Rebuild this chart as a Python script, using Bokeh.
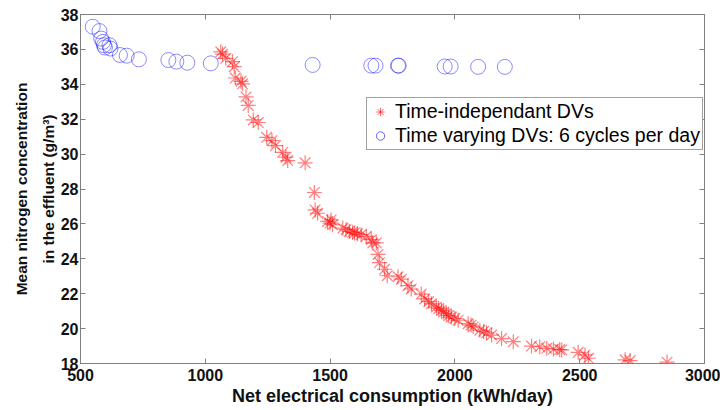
from bokeh.plotting import figure
from bokeh.models import (LinearAxis, Range1d, Legend, LegendItem, FixedTicker,
                          CustomJSTickFormatter)
from bokeh.embed import file_html
from bokeh.resources import INLINE

# Time varying DVs: 6 cycles per day
tv_x = [549, 576, 583, 590, 594, 598, 616, 620, 658, 685, 734, 852, 884, 928,
        1022, 1430, 1665, 1682, 1772, 1775, 1959, 1983, 2093, 2200]
tv_y = [37.3, 37.05, 36.62, 36.43, 36.24, 36.11, 36.24, 36.05, 35.68, 35.64, 35.43,
        35.39, 35.3, 35.24, 35.2, 35.11, 35.07, 35.07, 35.07, 35.07, 35.02, 35.02,
        35.0, 35.0]

# Time-independant DVs
ti_x = [1062, 1069, 1082, 1109, 1116, 1120, 1143, 1149, 1163, 1172, 1192, 1212,
        1246, 1267, 1281, 1310, 1323, 1330, 1400, 1437,
        1440, 1450, 1490, 1504, 1510, 1500, 1551, 1564, 1577, 1590, 1598, 1610,
        1624, 1645, 1665, 1671, 1685, 1692, 1698,
        1718, 1729, 1772, 1785, 1812, 1825, 1865, 1879, 1895, 1906, 1926, 1935,
        1946, 1955, 1966, 1975, 1986, 2000, 2013, 2053, 2065, 2073, 2100, 2115,
        2127, 2147, 2187, 2234, 2307, 2340, 2368, 2395, 2420, 2428, 2494, 2521,
        2535, 2682, 2702, 2850]
ti_y = [35.86, 35.73, 35.49, 35.3, 35.01, 34.36, 34.17, 34.03, 33.28, 32.79, 31.96,
        31.81, 30.96, 30.77, 30.49, 30.1, 29.82, 29.63, 29.5, 27.8,
        26.8, 26.61, 26.14, 26.23, 25.95, 26.05, 25.76, 25.67, 25.57, 25.52, 25.48,
        25.43, 25.38, 25.29, 25.1, 24.91, 24.91, 24.25, 23.78,
        23.4, 23.03, 22.97, 22.83, 22.46, 22.27, 21.98, 21.7, 21.55, 21.42, 21.23,
        21.15, 21.04, 20.95, 20.85, 20.75, 20.66, 20.58, 20.48, 20.28, 20.2, 20.1,
        19.91, 19.84, 19.76, 19.63, 19.43, 19.25, 19.0, 18.96, 18.87, 18.83, 18.8,
        18.78, 18.64, 18.49, 18.3, 18.21, 18.17, 18.08]

x_ticks = [500, 1000, 1500, 2000, 2500, 3000]
y_ticks = [18, 20, 22, 24, 26, 28, 30, 32, 34, 36, 38]

series_labels = ["Time-independant DVs", "Time varying DVs: 6 cycles per day"]

FONT = "Liberation Sans"
AXIS_GRAY = "#808080"
NAN = float("nan")

p = figure(width=720, height=408, output_backend="svg", toolbar_location=None,
           x_range=Range1d(500, 3000), y_range=Range1d(18, 38),
           min_border_left=80, min_border_right=16, min_border_top=14,
           min_border_bottom=41)
p.xgrid.visible = False
p.ygrid.visible = False
p.outline_line_color = AXIS_GRAY

r_ti = p.scatter(ti_x, ti_y, marker="asterisk", size=15, line_color="red",
                 line_alpha=0.5, line_width=1.2)
r_tv = p.scatter(tv_x, tv_y, marker="circle", size=15, fill_color=None,
                 line_color="blue", line_alpha=0.45, line_width=1.0)

# smaller glyphs for the legend only (no visible data)
l_ti = p.scatter([NAN], [NAN], marker="asterisk", size=10, line_color="red",
                 line_alpha=0.6, line_width=1)
l_tv = p.scatter([NAN], [NAN], marker="circle", size=10, fill_color=None,
                 line_color="blue", line_alpha=0.6, line_width=1)

p.xaxis.ticker = FixedTicker(ticks=x_ticks)
p.yaxis.ticker = FixedTicker(ticks=y_ticks)
for ax in [p.xaxis[0], p.yaxis[0]]:
    ax.axis_line_color = AXIS_GRAY
    ax.major_tick_line_color = AXIS_GRAY
    ax.major_tick_in = 5
    ax.major_tick_out = 0
    ax.minor_tick_line_color = None
    ax.major_label_text_font = FONT
    ax.major_label_text_font_size = "16px"
    ax.major_label_text_font_style = "bold"
    ax.major_label_text_color = "#111111"
    ax.major_label_standoff = 3
    ax.axis_label_text_font = FONT
    ax.axis_label_text_font_style = "bold"
    ax.axis_label_text_color = "#111111"
    ax.axis_label_standoff = 2

p.xaxis.axis_label = "Net electrical consumption (kWh/day)"
p.xaxis.axis_label_text_font_size = "18px"
p.xaxis.major_label_standoff = 5
p.yaxis.axis_label = "Mean nitrogen concentration\nin the effluent (g/m\u00b3)"
p.yaxis.axis_label_text_font_size = "15.5px"
p.yaxis.axis_label_text_line_height = 1.6
p.yaxis.axis_label_standoff = 1
p.yaxis.major_label_standoff = 2

blank = CustomJSTickFormatter(code="return ''")
top = LinearAxis(ticker=FixedTicker(ticks=x_ticks), formatter=blank,
                 axis_line_color=AXIS_GRAY, major_tick_line_color=AXIS_GRAY,
                 major_tick_in=5, major_tick_out=0, minor_tick_line_color=None,
                 major_label_standoff=0)
right = LinearAxis(ticker=FixedTicker(ticks=y_ticks), formatter=blank,
                   axis_line_color=AXIS_GRAY, major_tick_line_color=AXIS_GRAY,
                   major_tick_in=5, major_tick_out=0, minor_tick_line_color=None,
                   major_label_standoff=0)
p.add_layout(top, "above")
p.add_layout(right, "right")

legend = Legend(items=[LegendItem(label=series_labels[0], renderers=[l_ti]),
                       LegendItem(label=series_labels[1], renderers=[l_tv])],
                location=(286, 213), label_text_font=FONT, label_text_font_size="19.5px",
                label_text_color="black", glyph_width=22, glyph_height=21,
                label_height=21, label_standoff=4, padding=2, spacing=1, margin=0,
                border_line_color="#444444", border_line_width=1,
                background_fill_alpha=1)
p.add_layout(legend, "center")

open("out.html", "w").write(file_html(p, INLINE))
